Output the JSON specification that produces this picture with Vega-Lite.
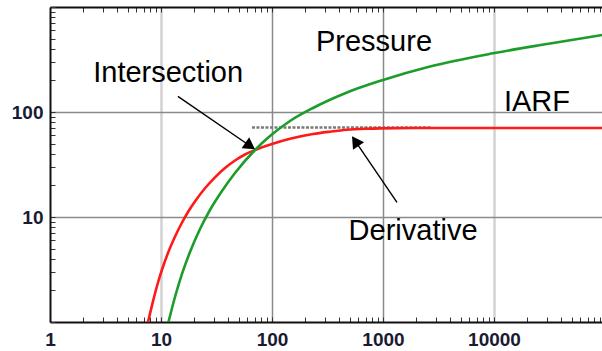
{
  "$schema": "https://vega.github.io/schema/vega-lite/v6.json",
  "width": 552,
  "height": 315,
  "autosize": {"type": "none"},
  "padding": {"left": 50, "top": 7, "right": 0, "bottom": 29},
  "background": "white",
  "config": {
    "view": {"stroke": null},
    "axis": {
      "labelFont": "Liberation Sans",
      "labelFontWeight": "bold",
      "labelFontSize": 19,
      "labelColor": "#1a1a33",
      "domainColor": "#111111",
      "domainWidth": 2,
      "tickColor": "#333333",
      "tickWidth": 1,
      "tickSize": -5,
      "title": null
    }
  },
  "datasets": {
    "curves": [
      {"series": "Derivative", "t": 7.64, "v": 1},
      {"series": "Derivative", "t": 8.47, "v": 1.574},
      {"series": "Derivative", "t": 9.4, "v": 2.378},
      {"series": "Derivative", "t": 10.42, "v": 3.356},
      {"series": "Derivative", "t": 11.56, "v": 4.541},
      {"series": "Derivative", "t": 13.1, "v": 6.2},
      {"series": "Derivative", "t": 15.14, "v": 8.48},
      {"series": "Derivative", "t": 17.51, "v": 11.16},
      {"series": "Derivative", "t": 20.67, "v": 14.52},
      {"series": "Derivative", "t": 24.91, "v": 18.77},
      {"series": "Derivative", "t": 30.65, "v": 23.88},
      {"series": "Derivative", "t": 37.72, "v": 29.29},
      {"series": "Derivative", "t": 46.42, "v": 34.51},
      {"series": "Derivative", "t": 57.12, "v": 39.38},
      {"series": "Derivative", "t": 70.28, "v": 43.46},
      {"series": "Derivative", "t": 100, "v": 49.58},
      {"series": "Derivative", "t": 145.3, "v": 55.56},
      {"series": "Derivative", "t": 234.1, "v": 61.7},
      {"series": "Derivative", "t": 333.2, "v": 64.93},
      {"series": "Derivative", "t": 474, "v": 67.7},
      {"series": "Derivative", "t": 688.3, "v": 69.18},
      {"series": "Derivative", "t": 939.8, "v": 69.8},
      {"series": "Derivative", "t": 2651, "v": 70.4},
      {"series": "Derivative", "t": 94000, "v": 70.4},
      {"series": "Pressure", "t": 11.68, "v": 1},
      {"series": "Pressure", "t": 13.37, "v": 1.73},
      {"series": "Pressure", "t": 15.46, "v": 2.87},
      {"series": "Pressure", "t": 18.25, "v": 4.64},
      {"series": "Pressure", "t": 22.46, "v": 7.69},
      {"series": "Pressure", "t": 27.63, "v": 11.66},
      {"series": "Pressure", "t": 35.44, "v": 17.69},
      {"series": "Pressure", "t": 46.42, "v": 26.24},
      {"series": "Pressure", "t": 70.28, "v": 43.46},
      {"series": "Pressure", "t": 95.94, "v": 59.07},
      {"series": "Pressure", "t": 145.3, "v": 82.1},
      {"series": "Pressure", "t": 234.1, "v": 109.2},
      {"series": "Pressure", "t": 474, "v": 153.4},
      {"series": "Pressure", "t": 1000, "v": 201.7},
      {"series": "Pressure", "t": 2651, "v": 271.3},
      {"series": "Pressure", "t": 9795, "v": 362.2},
      {"series": "Pressure", "t": 30030, "v": 444.3},
      {"series": "Pressure", "t": 94000, "v": 541}
    ],
    "iarf": [
      {"t": 66, "v": 71.2},
      {"t": 2762, "v": 71.2}
    ],
    "arrows": [
      {"name": "Intersection", "t1": 14.2, "v1": 141, "t2": 63.6, "v2": 47.4},
      {"name": "Derivative", "t1": 1337, "v1": 13.8, "t2": 563, "v2": 52.8}
    ],
    "labels": [
      {"label": "Pressure", "t": 249, "v": 378},
      {"label": "Intersection", "t": 2.45, "v": 192},
      {"label": "IARF", "t": 12300, "v": 101.6},
      {"label": "Derivative", "t": 490, "v": 6.0}
    ]
  },
  "resolve": {"axis": {"x": "independent"}},
  "layer": [
    {
      "data": {"name": "iarf"},
      "mark": {"type": "line", "color": "#7a7a7a", "strokeWidth": 2.5, "strokeDash": [3, 1.5], "clip": true},
      "encoding": {
        "x": {
          "field": "t", "type": "quantitative",
          "scale": {"type": "log", "domain": [1, 94000], "nice": false},
          "axis": {
            "orient": "top",
            "values": [1,2,3,4,5,6,7,8,9,10,20,30,40,50,60,70,80,90,100,200,300,400,500,600,700,800,900,1000,2000,3000,4000,5000,6000,7000,8000,9000,10000,20000,30000,40000,50000,60000,70000,80000,90000],
            "labels": false,
            "grid": false,
            "tickSize": -5
          }
        },
        "y": {
          "field": "v", "type": "quantitative",
          "scale": {"type": "log", "domain": [1, 1000], "nice": false},
          "axis": {
            "values": [1,2,3,4,5,6,7,8,9,10,20,30,40,50,60,70,80,90,100,200,300,400,500,600,700,800,900,1000],
            "labelExpr": "indexof([10,100], datum.value) >= 0 ? datum.value + '' : ''",
            "labelOverlap": false,
            "labelPadding": 12,
            "grid": true,
            "gridOpacity": {"condition": {"test": "indexof([10,100], datum.value) >= 0", "value": 1}, "value": 0},
            "gridColor": "#8a8a8a",
            "gridWidth": 1.5,
            "tickSize": -5
          }
        }
      }
    },
    {
      "data": {"name": "curves"},
      "mark": {"type": "line", "strokeWidth": 2.6, "interpolate": "monotone", "clip": true},
      "encoding": {
        "x": {
          "field": "t", "type": "quantitative",
          "scale": {"type": "log", "domain": [1, 94000], "nice": false},
          "axis": {
            "orient": "bottom",
            "values": [1,2,3,4,5,6,7,8,9,10,20,30,40,50,60,70,80,90,100,200,300,400,500,600,700,800,900,1000,2000,3000,4000,5000,6000,7000,8000,9000,10000,20000,30000,40000,50000,60000,70000,80000,90000],
            "labelExpr": "indexof([1,10,100,1000,10000], datum.value) >= 0 ? datum.value + '' : ''",
            "labelOverlap": false,
            "labelFlush": false,
            "labelBound": false,
            "labelPadding": 13,
            "grid": true,
            "gridOpacity": {"condition": {"test": "indexof([10,100,1000,10000], datum.value) >= 0", "value": 1}, "value": 0},
            "gridColor": {"condition": {"test": "datum.value == 100 || datum.value == 1000", "value": "#8a8a8a"}, "value": "#d2d2d2"},
            "gridWidth": {"condition": {"test": "datum.value == 100 || datum.value == 1000", "value": 1.5}, "value": 2.5},
            "tickSize": -5
          }
        },
        "y": {"field": "v", "type": "quantitative", "scale": {"type": "log", "domain": [1, 1000], "nice": false}},
        "color": {
          "field": "series", "type": "nominal",
          "scale": {"domain": ["Derivative", "Pressure"], "range": ["#ff1a1a", "#1c9c2a"]},
          "legend": null
        }
      }
    },
    {
      "data": {"name": "arrows"},
      "mark": {"type": "rule", "color": "black", "strokeWidth": 1.4},
      "encoding": {
        "x": {"field": "t1", "type": "quantitative", "scale": {"type": "log", "domain": [1, 94000], "nice": false}, "axis": null},
        "y": {"field": "v1", "type": "quantitative", "scale": {"type": "log", "domain": [1, 1000], "nice": false}},
        "x2": {"field": "t2"},
        "y2": {"field": "v2"}
      }
    },
    {
      "data": {"name": "arrows"},
      "transform": [{"filter": "datum.name == 'Intersection'"}],
      "mark": {"type": "point", "shape": "triangle-up", "filled": true, "color": "black", "opacity": 1, "size": 180, "angle": 124.5},
      "encoding": {
        "x": {"field": "t2", "type": "quantitative", "scale": {"type": "log", "domain": [1, 94000], "nice": false}, "axis": null},
        "y": {"field": "v2", "type": "quantitative", "scale": {"type": "log", "domain": [1, 1000], "nice": false}}
      }
    },
    {
      "data": {"name": "arrows"},
      "transform": [{"filter": "datum.name == 'Derivative'"}],
      "mark": {"type": "point", "shape": "triangle-up", "filled": true, "color": "black", "opacity": 1, "size": 180, "angle": 325.7},
      "encoding": {
        "x": {"field": "t2", "type": "quantitative", "scale": {"type": "log", "domain": [1, 94000], "nice": false}, "axis": null},
        "y": {"field": "v2", "type": "quantitative", "scale": {"type": "log", "domain": [1, 1000], "nice": false}}
      }
    },
    {
      "data": {"name": "labels"},
      "mark": {"type": "text", "align": "left", "baseline": "alphabetic", "font": "Liberation Sans", "fontSize": 29, "color": "black"},
      "encoding": {
        "x": {"field": "t", "type": "quantitative", "scale": {"type": "log", "domain": [1, 94000], "nice": false}, "axis": null},
        "y": {"field": "v", "type": "quantitative", "scale": {"type": "log", "domain": [1, 1000], "nice": false}},
        "text": {"field": "label", "type": "nominal"}
      }
    }
  ]
}
